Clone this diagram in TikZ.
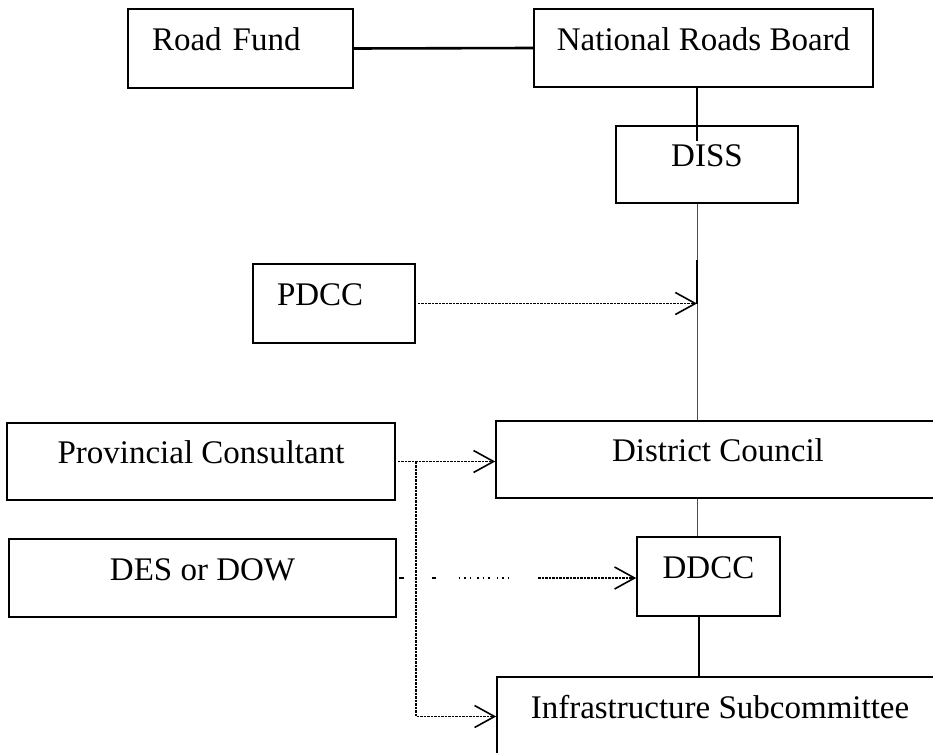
\documentclass[tikz,border=0pt]{standalone}
\usepackage{fontspec}
\setmainfont{Liberation Serif}
\usetikzlibrary{arrows.meta}
\begin{document}
\begin{tikzpicture}[x=1pt, y=-1pt,
  box/.style={draw, line width=1.6pt, inner sep=0pt,
    font=\fontsize{33}{36}\selectfont, text height=22pt, text depth=18pt},
  leftbox/.style={box, align=left, inner xsep=24pt},
  solidlink/.style={line width=2pt},
  heavylink/.style={line width=2.6pt},
  thinlink/.style={line width=0.9pt, black!70},
  barb/.style={-{Straight Barb[length=20pt, width=22pt, line width=1.6pt]}},
  dotlink/.style={line width=1.4pt, black, dash pattern=on 2.5pt off 1pt},
  flow/.style={barb, dotlink},
  gappyflow/.style={barb, line width=1.4pt, black,
    dash pattern=on 5pt off 28pt on 4pt off 23pt
      on 1.5pt off 4pt on 1.5pt off 4pt on 1.5pt off 6pt on 1.5pt off 4pt
      on 1.5pt off 4pt on 1.5pt off 7pt on 1.5pt off 4pt on 1.5pt off 4pt
      on 1.5pt off 29pt
      on 2.5pt off 1pt on 2.5pt off 1pt on 2.5pt off 1pt on 2.5pt off 1pt
      on 2.5pt off 1pt on 2.5pt off 1pt on 2.5pt off 1pt on 2.5pt off 1pt
      on 2.5pt off 1pt on 2.5pt off 1pt on 2.5pt off 1pt on 2.5pt off 1pt
      on 2.5pt off 1pt on 2.5pt off 1pt on 2.5pt off 1pt on 2.5pt off 1pt
      on 2.5pt off 1pt on 2.5pt off 1pt on 2.5pt off 1pt on 2.5pt off 1pt
      on 2.5pt off 1pt on 2.5pt off 1pt on 2.5pt off 1pt on 2.5pt off 1pt
      on 2.5pt off 1pt on 2.5pt off 1pt on 30pt off 1pt},
]
\useasboundingbox (0,0) rectangle (933,752);
\clip (0,0) rectangle (933,752);

% boxes
\node[leftbox, text width=177pt, minimum height=79pt] (rf)   at (240.5,48.5) {Road Fund};
\node[box, minimum width=339pt, minimum height=78pt]  (nrb)  at (703.5,48)   {National Roads Board};
\node[box, minimum width=182pt, minimum height=77pt]  (diss) at (707,164.5)  {DISS};
\node[leftbox, text width=114pt, minimum height=79pt] (pdcc) at (334,303.5)  {PDCC};
\node[box, minimum width=388pt, minimum height=77pt]  (prov) at (201,461.5)  {Provincial Consultant};
\node[box, minimum width=444pt, minimum height=77pt]  (dc)   at (718,459.5)  {District Council};
\node[box, minimum width=387pt, minimum height=78pt]  (des)  at (202.5,578)  {DES or DOW};
\node[box, minimum width=143pt, minimum height=79pt]  (ddcc) at (708.5,576.5) {DDCC};
\node[box, minimum width=446pt, minimum height=79pt]  (infra) at (720,716.5) {Infrastructure Subcommittee};

% reference points on the vertical spine
\coordinate (spine) at (697,0);
\coordinate (dissin) at (697,141);
\coordinate (tapA) at (697,260);
\coordinate (tap) at (697,303.5);
\coordinate (lowspine) at (699,0);
\coordinate (drop) at (416,461.5);

% solid reporting lines
\draw[heavylink] (rf.east) -- (nrb.west);
\draw[solidlink] (nrb.south -| spine) -- (dissin);
\draw[thinlink] (diss.south -| spine) -- (dc.north -| spine);
\draw[solidlink] (tapA) -- (tap);
\draw[thinlink] (dc.south -| spine) -- (ddcc.north -| spine);
\draw[solidlink] (ddcc.south -| lowspine) -- (infra.north -| lowspine);

% advisory (dotted) links
\draw[flow, shorten <=2pt] (pdcc.east) -- (tap);
\draw[flow, shorten <=2pt] (prov.east) -- (prov.east -| dc.west);
\draw[flow] (drop) -- (drop |- infra.west) -- (infra.west);
\draw[gappyflow, shorten <=2pt] (des.east) -- (des.east -| ddcc.west);
\end{tikzpicture}
\end{document}
